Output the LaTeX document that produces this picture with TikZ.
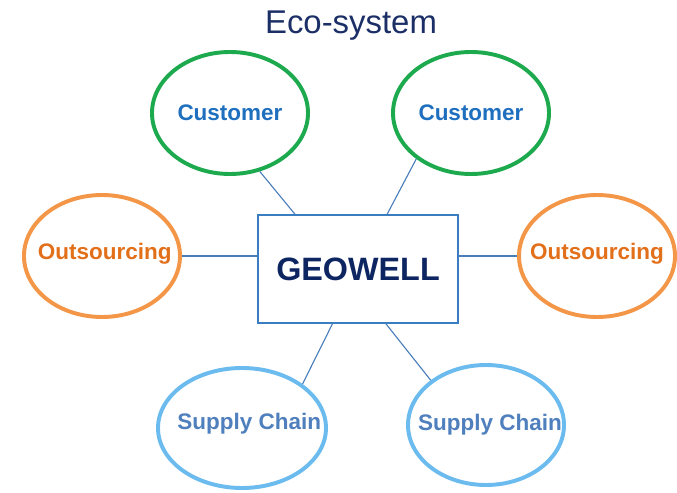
\documentclass[tikz,border=0pt]{standalone}
\usepackage{fontspec}
\setmainfont{Liberation Sans}
\usetikzlibrary{positioning, shapes}

\definecolor{ecogreen}{HTML}{1DAA4E}
\definecolor{ecoorange}{HTML}{F39647}
\definecolor{ecolight}{HTML}{6BBBEE}
\definecolor{custblue}{HTML}{1F6FBF}
\definecolor{outtext}{HTML}{E26F1A}
\definecolor{suptext}{HTML}{4F7FBD}
\definecolor{geotext}{HTML}{0D2561}
\definecolor{geoblue}{HTML}{3A7DC0}
\definecolor{titleblue}{HTML}{1B2F66}
\definecolor{linkblue}{HTML}{4A7EBB}

\tikzset{
  ring/.style={ellipse, line width=2.8pt, minimum width=3.9cm, minimum height=3.05cm},
  custell/.style={ring, draw=ecogreen},
  outell/.style={ring, draw=ecoorange},
  supell/.style={ring, draw=ecolight, minimum height=3cm},
  lbl/.style={font=\fontsize{16}{19}\selectfont\bfseries},
  custlbl/.style={lbl, text=custblue},
  outlbl/.style={lbl, text=outtext},
  suplbl/.style={lbl, text=suptext},
  link/.style={draw=linkblue, line width=0.8pt}
}

\begin{document}
\begin{tikzpicture}[node distance=4cm, on grid, auto]
        \useasboundingbox (-8.95,-5.575) rectangle (7.975,6.725);
        % Nodes
        \node (geo) [draw=geoblue, rectangle, line width=1.1pt, minimum width=5cm, minimum height=2.7cm, text=geotext, font=\fontsize{23}{28}\selectfont\bfseries] {GEOWELL};
        \node (title) [above=6.075cm of geo, xshift=-0.175cm, text=titleblue, font=\fontsize{23.4}{28}\selectfont] {Eco-system};
        \node (custA) [custell, above left=3.9cm and 3.2cm of geo, label={[custlbl]center:Customer}] {};
        \node (custB) [custell, above right=3.9cm and 2.825cm of geo, label={[custlbl]center:Customer}] {};
        \node (outA) [outell, above left=0.325cm and 6.4cm of geo, label={[outlbl, xshift=0.07cm, yshift=0.05cm]center:Outsourcing}] {};
        \node (outB) [outell, above right=0.325cm and 5.975cm of geo, label={[outlbl, yshift=0.05cm]center:Outsourcing}] {};
        \node (supA) [supell, below left=3.975cm and 2.9cm of geo, minimum width=4.2cm, label={[suplbl, xshift=0.18cm, yshift=0.1cm]center:Supply Chain}] {};
        \node (supB) [supell, below right=3.9cm and 3.2cm of geo, label={[suplbl, xshift=0.1cm, yshift=0.02cm]center:Supply Chain}] {};

        % Lines
        \draw[link] (custA.-63) -- (geo.139);
        \draw[link] (custB.-140) -- (geo.62);
        \draw[link] (outA.east) -- (outA.east -| geo.west);
        \draw[link] (outB.west -| geo.east) -- (outB.west);
        \draw[link] (geo.-115) -- (supA.36);
        \draw[link] (geo.-63) -- (supB.141);
    \end{tikzpicture}
\end{document}
